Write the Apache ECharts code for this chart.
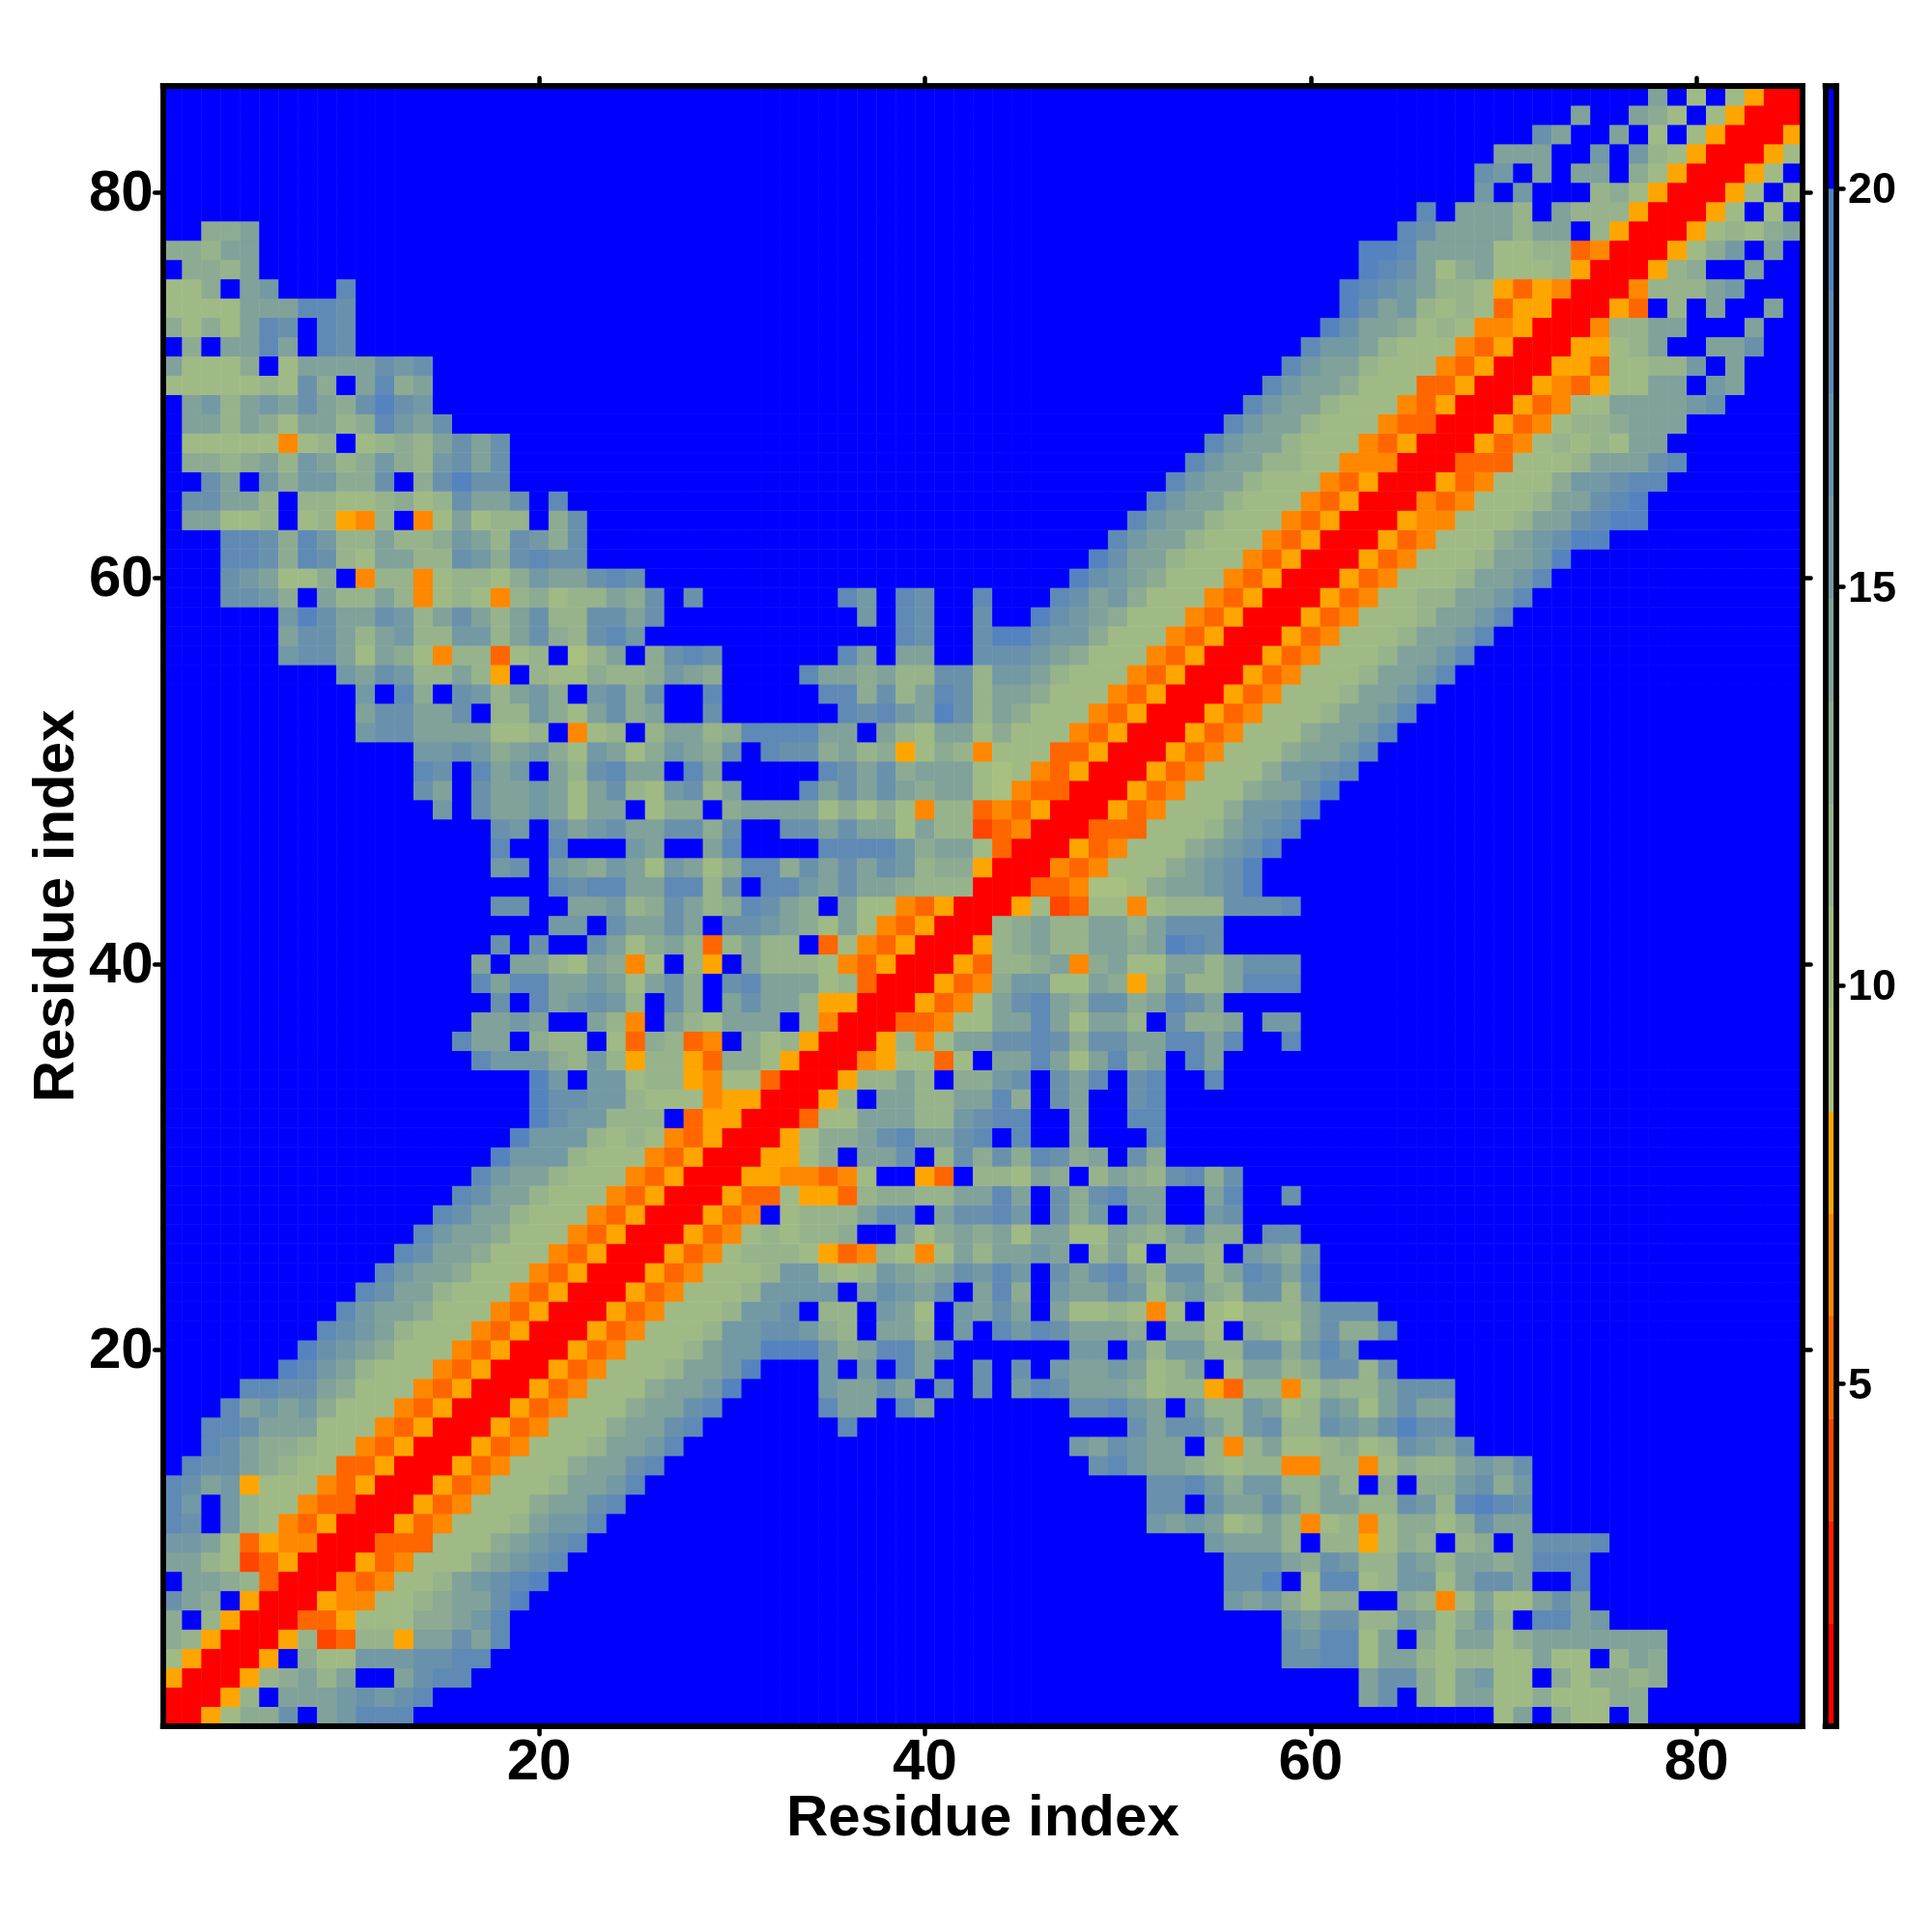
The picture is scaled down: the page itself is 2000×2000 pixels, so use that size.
<!DOCTYPE html>
<html>
<head>
<meta charset="utf-8">
<style>html,body{margin:0;padding:0;background:#fff}#c{width:2000px;height:2000px}</style>
<script src="https://cdn.jsdelivr.net/npm/echarts@6/dist/echarts.min.js"></script>
</head>
<body>
<div id="c"></div>
<script>
// Colour-bar scale
const scaleMin = 0.71;
const scaleMax = 21.28;
const colorbarTicks = [5, 10, 15, 20];
const residueTicks = [20, 40, 60, 80];
const residueCount = 85;
const levelColors = ['#ff0000','#ff2200','#ff4500','#ff6600','#ff8800','#ffa500',
  '#a8c080','#a0ba85','#97b38b','#8dab92','#80a29a','#7399a4','#6a91ac','#5f8ab5','#5583bf','#0000ff'];

// Distance map, one row per residue (symmetric): "startColumn:levels" with levels in hex (0 = nearest, f = farthest).
const upperRows = [
"1:005799cfabddd 70:7af977f9",
"2:0058faaabcbcd 63:acf97aa77977799",
"3:00589a8affacdd 63:acc97ab77f979989",
"4:005f977bbbccdd 59:ccdd7aa878877a77f8a9",
"5:005823885aacad 59:cbdd7af97aa79aaaaaaa",
"6:0033577799abd 59:bacc88ba79b8fddab",
"7:005447789aace 56:bab9799ff9847a77aca",
"8:00434778abcde 56:ccef7dd78bb7accaffd",
"9:0053477 79abcd 56:ccca9cb88ba8aa9addd",
"10:003337779abcd 55:baaa8f885798f89facccd",
"11:0053477 78abbd 52:baba78a8478479979caa",
"12:005347779aacd 52:ccfcaaca8aa88cb8dedc",
"13:005347778aabd 52:ccdb9bb88a8f9f99bc9b",
"14:005347779aacd 49:cdbaa98788448847988abac",
"15:005347778aabd 48:bacbaaf848a778978cbac",
"16:005347779aacd 36:d 51:cacca8bc88cbacecc",
"17:005347779aacd 35:daafda 48:ccdbafb88ba78ba7acaa",
"18:005347779aabe 35:baacafcfcfbdcaaa9788538847988accc",
"19:005347778aabe 35:bfbfdaffcfcfbaaba78af7aa89cc8c",
"20:005347778abbeeeb9addac 48:bbfb8bb88cc9bdb",
"21:005347778bbccb98faa8fbfdbdcaaa9f997f987ac99d",
"22:005347778bbcf88fba7fbacafa778747f76888accc",
"23:005347778bbbbfacbacfad9fbaacb7ab98cc8c",
"24:005347778bb878ba9acbdbfcacda8cc8adcad",
"25:00534788875348747a8aabaf8a7f998fba9c",
"26:00534787889ffa79a9a7aa77a98ac99fcc",
"27:00534f7888accfaccdbfc9bfbaffbc",
"28:00533755389988aadafc9cdaaffadffc",
"29:005544347ff53f887a9f8a98cd9c",
"30:005579faacf8c9c9dc9afc9",
"31:005799acdaacdfdffafffd",
"32:00377aaa88bcddffaffdd",
"33:0058faa88aad9fcaffcd",
"34:00588a8f99bcfcadfcdffd",
"35:00457737faada7ad9afda",
"36:005847aaccdc9ccaaddad 59:d",
"37:0033477aada7aa8fc99afbb",
"38:005347acda9cc9adca",
"39:005349bb77a958b88addd",
"40:0053889a49a77aa8accc",
"41:00589a88aa9aedc",
"42:0089a88aa8accc",
"43:0057237747888cccd",
"44:003346679aabce",
"45:004347779abce",
"46:005347779abce",
"47:003337778abcd",
"48:005347779bbce",
"49:005347779aace",
"50:005347779bbcd",
"51:005347779aabd",
"52:005347779aabd",
"53:005347778aabd",
"54:005347778aabd",
"55:005347778aabd",
"56:005347778aabd",
"57:005347778aabd",
"58:005347778aabd",
"59:005347788aabd",
"60:005347778aabd",
"61:005347778aabe",
"62:005347779abcee",
"63:005447778aacdee",
"64:004347778aacde",
"65:005347779bbcdd",
"66:003337778aaacd",
"67:0053478787aa",
"68:005347889aaa",
"69:0053477aaaabc",
"70:00543577aafba",
"71:005537788bfa",
"72:005578affaac",
"73:00488aafffa",
"74:0053f8faffa",
"75:004888ab",
"76:00589ffa",
"77:00579bfa",
"78:0057879a",
"79:0057f7f",
"80:0057f7",
"81:0057f",
"82:0057",
"83:005",
"84:00",
"85:0"
];

const levelCount = levelColors.length;
const levelStep = (scaleMax - scaleMin) / levelCount;
const levelMid = k => scaleMin + levelStep * (k + 0.5);

const residues = Array.from({length: residueCount}, (_, i) => String(i + 1));
const matrix = residues.map(() => residues.map(() => 15));
upperRows.forEach((line, r) => {
  const tokens = line.match(/\d+:[^:]*?(?=\s+\d+:|$)/g);
  tokens.forEach(tok => {
    const [start, raw] = tok.split(':');
    const chars = raw.replace(/\s+/g, '');
    [...chars].forEach((ch, i) => {
      const c = +start - 1 + i;
      if (c < residueCount) { const v = parseInt(ch, 16); matrix[r][c] = v; matrix[c][r] = v; }
    });
  });
});
const cells = [];
matrix.forEach((row, r) => row.forEach((lv, c) => cells.push([c, r, +levelMid(lv).toFixed(2)])));

const barLevels = levelColors.map((_, k) => String(k));
const barCells = levelColors.map((_, k) => [0, k, +levelMid(k).toFixed(2)]);

const pieces = levelColors.map((color, k) => ({
  gte: scaleMin + levelStep * k,
  lt: scaleMin + levelStep * (k + 1),
  color
}));

const font = 'Liberation Sans';
const frame = {show: true, onZero: false, lineStyle: {color: '#000', width: 5.8, cap: 'square'}};
const tickStyle = {color: '#000', width: 4.5, cap: 'round'};
const isTick = (i, v) => residueTicks.includes(+v);
const mainTick = {show: true, alignWithLabel: true, interval: isTick, length: 8.5, lineStyle: tickStyle};
const tickLabel = {show: true, interval: isTick, color: '#000', fontFamily: font, fontWeight: 'bold', fontSize: 60};
const nameStyle = {color: '#000', fontFamily: font, fontWeight: 'bold', fontSize: 60};
const off = {show: false};

const option = {
  animation: false,
  backgroundColor: '#fff',
  grid: [
    {left: 168.67, top: 89.2, width: 1697.4, height: 1697.5, outerBoundsMode: 'none'},
    {left: 1889.6, top: 89.2, width: 11.4, height: 1697.5, outerBoundsMode: 'none'}
  ],
  visualMap: {show: false, type: 'piecewise', dimension: 2, seriesIndex: [0, 1], pieces},
  xAxis: [
    {gridIndex: 0, type: 'category', data: residues, position: 'bottom', z: 10, axisLine: frame, axisTick: mainTick,
     axisLabel: Object.assign({}, tickLabel, {margin: 9}), name: 'Residue index', nameLocation: 'middle', nameMoveOverlap: false, nameGap: 67, nameTextStyle: nameStyle, splitLine: off},
    {gridIndex: 0, type: 'category', data: residues, position: 'top', z: 10, axisLine: frame, axisTick: mainTick, axisLabel: off, splitLine: off},
    {gridIndex: 1, type: 'category', data: ['bar'], position: 'bottom', z: 10, axisLine: frame, axisTick: off, axisLabel: off, splitLine: off},
    {gridIndex: 1, type: 'category', data: ['bar'], position: 'top', z: 10, axisLine: frame, axisTick: off, axisLabel: off, splitLine: off}
  ],
  yAxis: [
    {gridIndex: 0, type: 'category', data: residues, position: 'left', z: 10, axisLine: frame, axisTick: mainTick,
     axisLabel: Object.assign({}, tickLabel, {margin: 10, verticalAlign: 'top', lineHeight: 5}), name: 'Residue index', nameLocation: 'middle', nameMoveOverlap: false, nameGap: 79, nameTextStyle: nameStyle, splitLine: off},
    {gridIndex: 0, type: 'category', data: residues, position: 'right', z: 10, axisLine: frame, axisTick: mainTick, axisLabel: off, splitLine: off},
    {gridIndex: 1, type: 'category', data: barLevels, position: 'left', z: 10, axisLine: frame, axisTick: off, axisLabel: off, splitLine: off},
    {gridIndex: 1, type: 'value', min: scaleMin, max: scaleMax, position: 'right', z: 10, axisLine: frame,
     axisTick: {show: true, customValues: colorbarTicks, length: 7.5, lineStyle: tickStyle},
     axisLabel: {show: true, customValues: colorbarTicks, margin: 12, verticalAlign: 'top', lineHeight: 6, color: '#000', fontFamily: font, fontWeight: 'bold', fontSize: 45},
     splitLine: off}
  ],
  series: [
    {type: 'heatmap', xAxisIndex: 0, yAxisIndex: 0, data: cells, progressive: 0, itemStyle: {borderWidth: 0}, emphasis: {disabled: true}},
    {type: 'heatmap', xAxisIndex: 2, yAxisIndex: 2, data: barCells, progressive: 0, itemStyle: {borderWidth: 0}, emphasis: {disabled: true}}
  ]
};
echarts.init(document.getElementById('c'), null, {renderer: 'canvas'}).setOption(option);
</script>
</body>
</html>
